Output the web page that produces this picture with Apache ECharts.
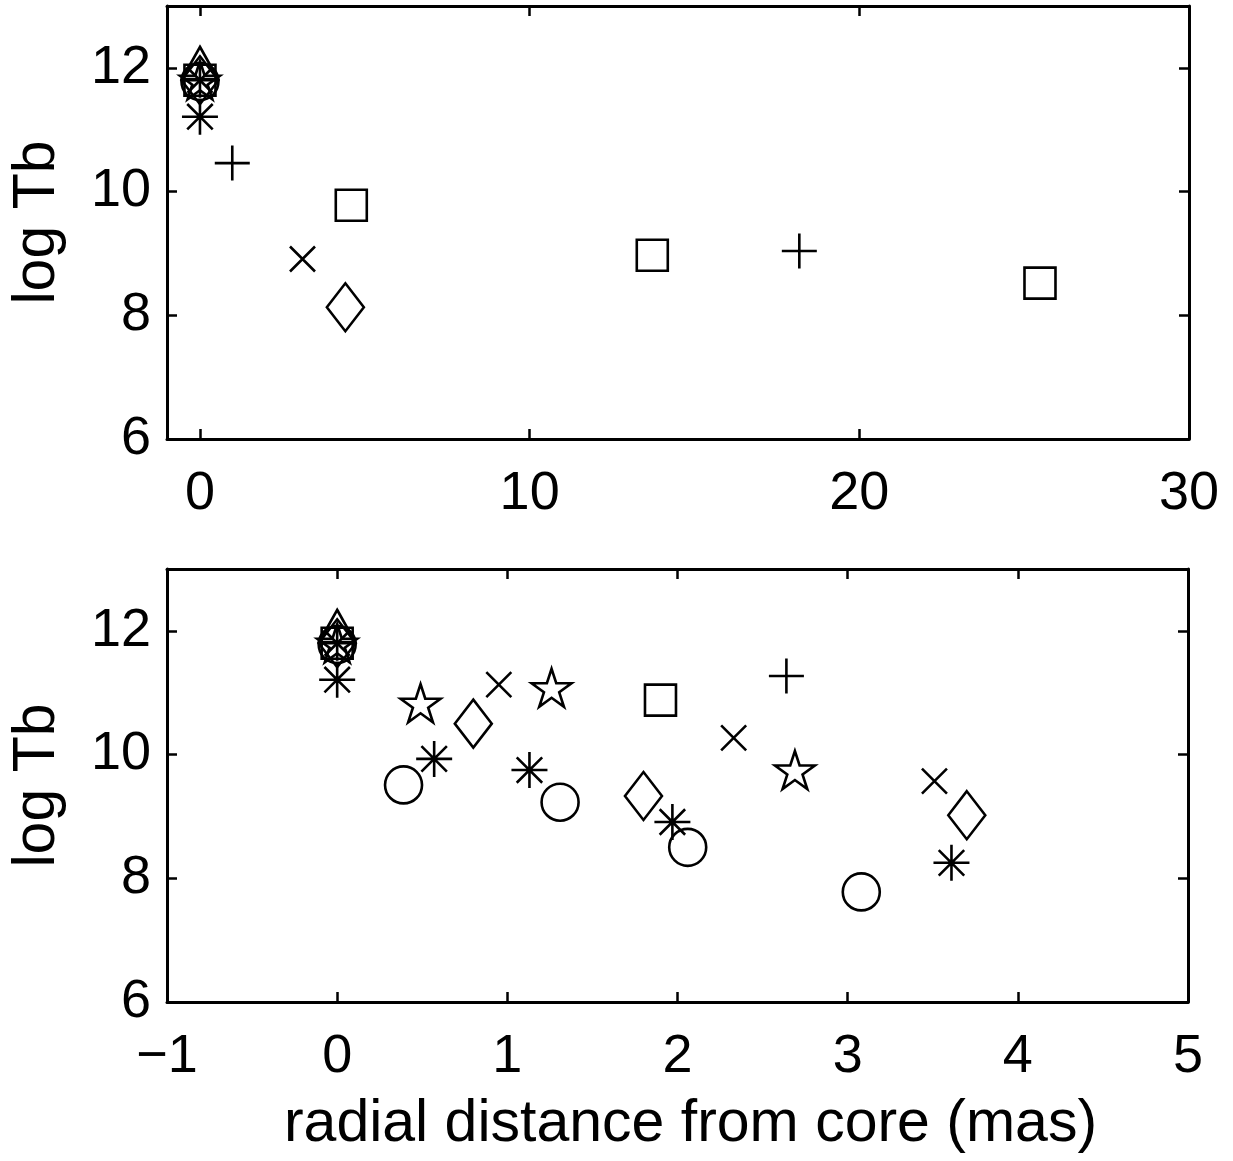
<!DOCTYPE html>
<html>
<head>
<meta charset="utf-8">
<style>
  html, body { margin: 0; padding: 0; background: #fff; }
  #chart { width: 1233px; height: 1161px; }
</style>
<script src="https://cdn.jsdelivr.net/npm/echarts@6/dist/echarts.min.js"></script>
</head>
<body>
<div id="chart"></div>
<script>
// Tick positions
const topXTicks = [0, 10, 20, 30];
const botXTicks = [-1, 0, 1, 2, 3, 4, 5];
const yTicks = [6, 8, 10, 12];

// Upper panel: [radial distance (mas), log Tb]
const topCircle   = [[0, 11.78]];
const topAsterisk = [[0, 11.21]];
const topStar     = [[0, 11.8]];
const topTriangle = [[0, 12.08]];
const topDiamond  = [[0, 11.8], [4.41, 8.13]];
const topCross    = [[0, 11.8], [3.11, 8.91]];
const topPlus     = [[0, 11.8], [0.98, 10.46], [18.18, 9.04]];
const topSquare   = [[0, 11.8], [4.59, 9.78], [13.72, 8.97], [25.48, 8.52]];

// Lower panel: [radial distance (mas), log Tb]
const botCircle   = [[0, 11.78], [0.39, 9.51], [1.31, 9.23], [2.06, 8.50], [3.08, 7.78]];
const botAsterisk = [[0, 11.21], [0.57, 9.93], [1.13, 9.75], [1.97, 8.91], [3.61, 8.25]];
const botStar     = [[0, 11.8], [0.49, 10.83], [1.26, 11.08], [2.69, 9.75]];
const botTriangle = [[0, 12.08]];
const botDiamond  = [[0, 11.8], [0.80, 10.50], [1.80, 9.33], [3.70, 9.02]];
const botCross    = [[0, 11.8], [0.95, 11.13], [2.33, 10.27], [3.51, 9.57]];
const botPlus     = [[0, 11.8], [2.64, 11.27]];
const botSquare   = [[0, 11.8], [1.90, 10.88]];

// Marker shapes (outline only, like classic plotting markers)
const SYM = {
  circle:   { symbol: 'circle', size: 37 },
  square:   { symbol: 'rect', size: 31 },
  diamond:  { symbol: 'diamond', size: [37, 48] },
  triangle: { symbol: 'triangle', size: [36, 32] },
  plus:     { symbol: 'path://M0,50 L100,50 M50,0 L50,100', size: 35 },
  cross:    { symbol: 'path://M0,0 L100,100 M100,0 L0,100', size: 25 },
  asterisk: { symbol: 'path://M0,50 L100,50 M50,0 L50,100 M14.64,14.64 L85.36,85.36 M85.36,14.64 L14.64,85.36', size: 36 },
  star:     { symbol: 'path://M100,0 L122.45,69.1 L195.11,69.1 L136.33,111.8 L158.78,180.9 L100,138.2 L41.22,180.9 L63.67,111.8 L4.89,69.1 L77.55,69.1 Z', size: [40, 38] }
};

const FONT = 'Liberation Sans, Arial, Helvetica, sans-serif';
const minus = v => (v < 0 ? '\u2212' + Math.abs(v) : String(v));

function markerSeries(data, kind, gi) {
  return {
    type: 'scatter',
    xAxisIndex: gi * 2,
    yAxisIndex: gi * 2,
    data: data,
    symbol: SYM[kind].symbol,
    symbolSize: SYM[kind].size,
    itemStyle: { color: 'rgba(0,0,0,0)', borderColor: '#000', borderWidth: 2.6, opacity: 1 },
    emphasis: { disabled: true },
    silent: true
  };
}

const axisLine = { show: true, onZero: false, lineStyle: { color: '#000', width: 3 } };
function tick(values) {
  return { show: true, inside: true, length: 10, customValues: values, lineStyle: { color: '#000', width: 2.5 } };
}

function xAxes(gi, min, max, ticks, name) {
  return [
    {
      type: 'value', gridIndex: gi, position: 'bottom', min: min, max: max,
      axisLine: axisLine, axisTick: tick(ticks), splitLine: { show: false },
      axisLabel: { customValues: ticks, formatter: minus, color: '#000', fontFamily: FONT, fontSize: 54, margin: 28 },
      name: name, nameLocation: 'middle', nameGap: 93,
      nameTextStyle: { color: '#000', fontFamily: FONT, fontSize: 59, padding: [0, 0, 0, 26] }
    },
    {
      type: 'value', gridIndex: gi, position: 'top', min: min, max: max,
      axisLine: axisLine, axisTick: tick(ticks), splitLine: { show: false },
      axisLabel: { show: false }
    }
  ];
}

function yAxes(gi) {
  return [
    {
      type: 'value', gridIndex: gi, position: 'left', min: 6, max: 13,
      axisLine: axisLine, axisTick: tick(yTicks), splitLine: { show: false },
      axisLabel: { customValues: yTicks, color: '#000', fontFamily: FONT, fontSize: 54, margin: 16 },
      name: 'log Tb', nameLocation: 'middle', nameGap: 100,
      nameTextStyle: { color: '#000', fontFamily: FONT, fontSize: 59 }
    },
    {
      type: 'value', gridIndex: gi, position: 'right', min: 6, max: 13,
      axisLine: axisLine, axisTick: tick(yTicks), splitLine: { show: false },
      axisLabel: { show: false }
    }
  ];
}

const chart = echarts.init(document.getElementById('chart'), null, { renderer: 'canvas' });
chart.setOption({
  animation: false,
  backgroundColor: '#fff',
  grid: [
    { left: 166, top: 6, width: 1023, height: 433 },
    { left: 166, top: 569, width: 1022, height: 433 }
  ],
  xAxis: [
    ...xAxes(0, -1, 30, topXTicks, ''),
    ...xAxes(1, -1, 5, botXTicks, 'radial distance from core (mas)')
  ],
  yAxis: [...yAxes(0), ...yAxes(1)],
  series: [
    markerSeries(topCircle, 'circle', 0),
    markerSeries(topAsterisk, 'asterisk', 0),
    markerSeries(topStar, 'star', 0),
    markerSeries(topTriangle, 'triangle', 0),
    markerSeries(topDiamond, 'diamond', 0),
    markerSeries(topCross, 'cross', 0),
    markerSeries(topPlus, 'plus', 0),
    markerSeries(topSquare, 'square', 0),
    markerSeries(botCircle, 'circle', 1),
    markerSeries(botAsterisk, 'asterisk', 1),
    markerSeries(botStar, 'star', 1),
    markerSeries(botTriangle, 'triangle', 1),
    markerSeries(botDiamond, 'diamond', 1),
    markerSeries(botCross, 'cross', 1),
    markerSeries(botPlus, 'plus', 1),
    markerSeries(botSquare, 'square', 1)
  ]
});
</script>
</body>
</html>
